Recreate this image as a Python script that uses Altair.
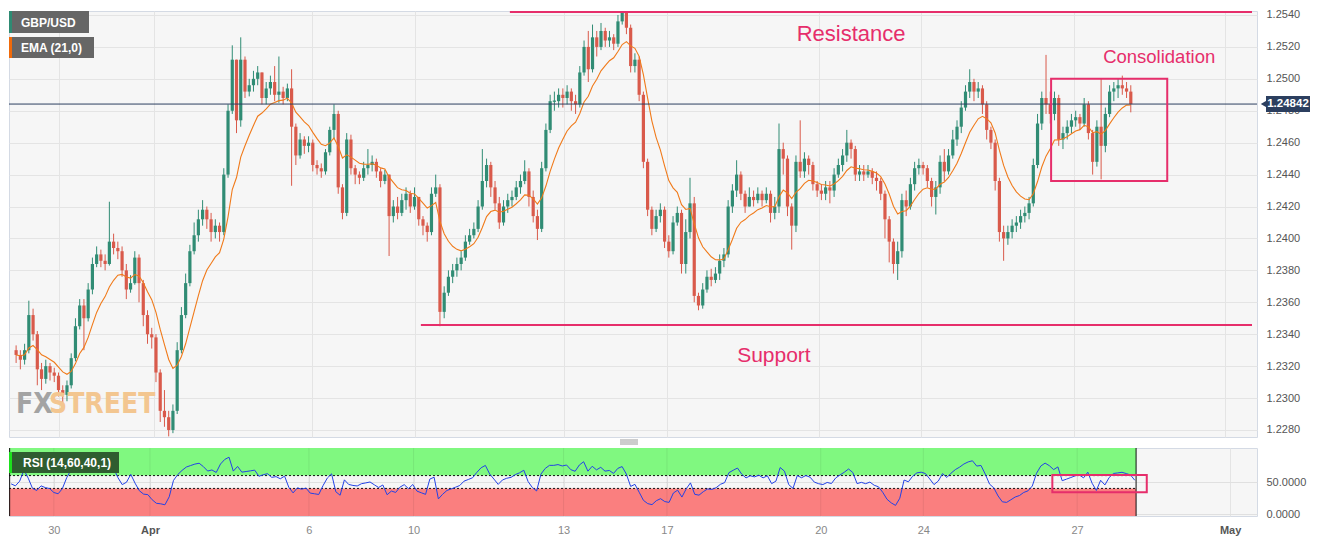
import altair as alt
import numpy as np
import pandas as pd

# ---------------- data (prices in pips above 1.2000, 2-hour candles) ----------------
OPEN0 = 330
CLOSE = [
    327, 324, 330, 352, 340, 318, 312, 320, 316, 314,
    305, 302, 308, 325, 345, 358, 350, 368, 384, 390,
    386, 384, 398, 394, 392, 380, 368, 372, 388, 372,
    352, 340, 338, 316, 292, 288, 280, 292, 330, 352,
    372, 392, 402, 412, 418, 412, 404, 408, 404, 440,
    480, 512, 474, 512, 492, 496, 500, 504, 488, 494,
    498, 490, 492, 488, 494, 470, 452, 462, 458, 460,
    446, 444, 442, 454, 468, 478, 432, 416, 462, 444,
    440, 438, 444, 446, 448, 442, 436, 440, 414, 420,
    416, 424, 428, 420, 426, 412, 408, 404, 428, 432,
    354, 366, 376, 380, 384, 388, 398, 402, 406, 420,
    436, 446, 432, 422, 410, 420, 424, 426, 432, 436,
    442, 426, 414, 406, 444, 468, 486, 486, 490, 488,
    492, 486, 484, 504, 520, 506, 526, 520, 530, 524,
    526, 522, 536, 542, 532, 508, 512, 490, 448, 418,
    406, 414, 418, 398, 392, 410, 416, 384, 404, 422,
    364, 358, 368, 376, 374, 378, 386, 390, 420, 430,
    440, 428, 420, 426, 424, 428, 424, 428, 416, 420,
    456, 450, 420, 408, 448, 442, 450, 446, 434, 430,
    428, 432, 430, 440, 446, 452, 460, 456, 440, 442,
    440, 442, 438, 436, 428, 412, 398, 384, 392, 424,
    420, 434, 444, 446, 444, 436, 426, 432, 448, 442,
    452, 462, 470, 482, 492, 498, 492, 494, 484, 468,
    460, 436, 404, 400, 404, 408, 410, 414, 416, 422,
    446, 472, 488, 484, 478, 488, 462, 466, 470, 474,
    476, 472, 484, 466, 448, 470, 458, 478, 492, 494,
    496, 494, 492, 484.2,
]
HIGH = [
    333, 330, 334, 361, 356, 342, 322, 324, 322, 319,
    316, 308, 311, 328, 350, 362, 362, 372, 388, 395,
    393, 390, 423, 403, 398, 395, 384, 377, 392, 390,
    374, 355, 344, 340, 318, 305, 292, 296, 335, 357,
    378, 396, 410, 418, 424, 420, 416, 412, 410, 444,
    484, 521, 508, 526, 514, 500, 505, 508, 504, 498,
    502, 508, 514, 495, 497, 506, 472, 466, 464, 464,
    462, 449, 447, 456, 470, 484, 480, 434, 466, 465,
    446, 442, 448, 456, 452, 450, 444, 443, 440, 424,
    426, 428, 432, 430, 432, 426, 414, 410, 432, 440,
    434, 370, 380, 384, 388, 392, 402, 406, 410, 424,
    456, 450, 448, 436, 426, 424, 428, 430, 436, 440,
    449, 444, 430, 418, 448, 472, 490, 492, 494, 494,
    496, 494, 490, 508, 524, 530, 534, 530, 535, 532,
    530, 528, 540, 546, 544, 534, 516, 514, 492, 450,
    420, 418, 422, 420, 402, 414, 420, 418, 412, 438,
    426, 366, 372, 380, 381, 382, 390, 394, 424, 434,
    449, 442, 430, 432, 430, 432, 430, 432, 430, 426,
    472, 460, 452, 422, 452, 474, 454, 452, 448, 436,
    434, 436, 436, 444, 450, 456, 468, 462, 458, 446,
    446, 446, 444, 442, 438, 430, 414, 400, 398, 428,
    430, 438, 448, 450, 448, 446, 438, 436, 452, 456,
    456, 468, 474, 486, 496, 506, 500, 498, 496, 486,
    470, 462, 438, 408, 408, 412, 414, 418, 420, 426,
    450, 478, 492, 515, 492, 492, 490, 470, 474, 478,
    480, 478, 488, 486, 468, 474, 500, 482, 496, 498,
    500, 502, 498, 496,
]
LOW = [
    322, 318, 321, 328, 336, 308, 305, 309, 311, 310,
    301, 297, 298, 306, 323, 343, 330, 348, 365, 382,
    382, 380, 383, 390, 387, 376, 362, 366, 371, 360,
    345, 334, 331, 310, 285, 282, 276, 278, 290, 328,
    350, 370, 390, 398, 408, 406, 398, 400, 398, 402,
    438, 478, 466, 470, 488, 489, 492, 496, 484, 484,
    490, 486, 485, 484, 486, 433, 446, 450, 453, 454,
    442, 440, 438, 440, 452, 462, 428, 412, 414, 440,
    434, 434, 436, 440, 442, 438, 432, 434, 389, 410,
    412, 414, 418, 416, 418, 408, 402, 398, 402, 426,
    345, 350, 364, 372, 376, 380, 386, 396, 400, 404,
    418, 432, 426, 418, 406, 408, 416, 420, 424, 428,
    434, 420, 410, 399, 404, 442, 466, 480, 482, 482,
    484, 480, 478, 482, 502, 498, 504, 514, 518, 520,
    520, 518, 520, 534, 528, 504, 504, 486, 444, 414,
    402, 404, 410, 394, 388, 390, 408, 378, 378, 400,
    360, 355, 356, 366, 370, 372, 374, 382, 388, 416,
    426, 424, 416, 420, 420, 422, 420, 422, 410, 412,
    416, 440, 414, 393, 404, 438, 438, 440, 430, 426,
    424, 424, 422, 426, 438, 442, 448, 450, 436, 436,
    436, 438, 434, 430, 424, 400, 385, 378, 374, 388,
    414, 418, 430, 440, 440, 432, 420, 415, 428, 436,
    440, 450, 458, 466, 480, 488, 486, 488, 478, 462,
    456, 430, 398, 386, 396, 400, 404, 406, 410, 412,
    420, 444, 468, 478, 472, 474, 458, 456, 462, 466,
    470, 468, 470, 462, 440, 445, 437, 454, 476, 486,
    488, 490, 488, 479,
]
LAST = 1.24842

TICK_POS = [10, 32.5, 69.7, 94.2, 129.3, 153.5, 189.5, 213.5, 249.5, 285.3]
TICK_LAB = ["30", "Apr", "6", "10", "13", "17", "20", "24", "27", "May"]
PRICE_TICKS = [round(1.228 + 0.002 * k, 4) for k in range(14)]

# annotation levels
RES_LEVEL = 1.25418
SUP_LEVEL = 1.23458
BOX_X = [244.2, 271.6]
BOX_Y = [1.2500, 1.2436]
RSI_BOX_X = [243.7, 265.8]
RSI_BOX_Y = [61, 34]

# ---------------- layout ----------------
W = 1248
H_MAIN = 426
H_RSI = 68
XDOM = [-0.5, 291.6]
YDOM = [1.22756, 1.25425]
RDOM = [-3, 103]
PINK = "#e62e6b"
GREEN = "#308c74"
RED = "#d95a4b"
NAVY = "#2c3f5f"
FONT = "Liberation Sans"
WM_FONT = "DejaVu Sans Condensed, DejaVu Sans, Liberation Sans"

n = len(CLOSE)
cl = np.array(CLOSE, float)
op = np.concatenate([[OPEN0], cl[:-1]])
hi = np.maximum(np.array(HIGH, float), np.maximum(op, cl))
lo = np.minimum(np.array(LOW, float), np.minimum(op, cl))
# body ends (keep at least a hairline for doji)
b1 = np.where(np.abs(cl - op) < 0.6, op - 0.4, op)
b2 = np.where(np.abs(cl - op) < 0.6, op + 0.4, cl)

# EMA(21) of hourly bars expressed on 2-hour bars
a1 = 2 / 22
alpha = 1 - (1 - a1) ** 2
ema = pd.Series(cl).ewm(alpha=alpha, adjust=False).mean().values

# RSI(14) hourly -> 7 bars of 2 hours, Wilder smoothing
ag = al = 4.0
rsi = []
for v in (cl - op):
    ag += (max(v, 0) - ag) / 7
    al += (max(-v, 0) - al) / 7
    rsi.append(100 - 100 / (1 + ag / al))

df = pd.DataFrame({
    "i": np.arange(n),
    "o": 1.2 + b1 / 1e4,
    "c": 1.2 + b2 / 1e4,
    "h": 1.2 + hi / 1e4,
    "l": 1.2 + lo / 1e4,
    "ema": 1.2 + ema / 1e4,
    "rsi": rsi,
    "dir": np.where(cl >= op, "up", "down"),
})

xscale = alt.Scale(domain=XDOM, nice=False, zero=False)
yscale = alt.Scale(domain=YDOM, nice=False, zero=False)
rscale = alt.Scale(domain=RDOM, nice=False, zero=False)

xax_main = alt.Axis(values=TICK_POS, labels=False, ticks=False, domain=False,
                    grid=True, gridColor="#e4e4e4", title=None)
yax_main = alt.Axis(orient="right", values=PRICE_TICKS, format=".4f", labelColor="#555",
                    labelFontSize=11, labelPadding=9, ticks=False, domain=False,
                    grid=True, gridColor="#e4e4e4", title=None, labelFont=FONT)

lab_expr = " : ".join(f"abs(datum.value - {p}) < 0.01 ? '{t}'" for p, t in zip(TICK_POS, TICK_LAB)) + " : ''"
bold_test = "abs(datum.value - 32.5) < 0.01 || abs(datum.value - 285.3) < 0.01"
xax_rsi = alt.Axis(values=TICK_POS, labelExpr=lab_expr, ticks=False, domain=False, grid=True,
                   gridColor="#e4e4e4", title=None, labelFontSize=11, labelPadding=8,
                   labelFont=FONT,
                   labelColor={"condition": {"test": bold_test, "value": "#555"}, "value": "#888"},
                   labelFontWeight={"condition": {"test": bold_test, "value": "bold"}, "value": "normal"})
yax_rsi = alt.Axis(orient="right", values=[0, 50], format=".4f", labelColor="#555", labelFontSize=11,
                   labelPadding=9, ticks=False, domain=False, grid=True, gridColor="#e0e0e0",
                   title=None, labelFont=FONT)


def X(field, ax):
    return alt.X(field, type="quantitative", scale=xscale, axis=ax)


def Y(field):
    return alt.Y(field, type="quantitative", scale=yscale, axis=yax_main)


def R(field):
    return alt.Y(field, type="quantitative", scale=rscale, axis=yax_rsi)


color = alt.Color("dir:N", scale=alt.Scale(domain=["up", "down"], range=[GREEN, RED]), legend=None)

wicks = alt.Chart(df).mark_rule(size=1, clip=True).encode(x=X("i", xax_main), y=Y("l"), y2="h", color=color)
bodies = alt.Chart(df).mark_bar(size=3.2, clip=True).encode(x=X("i", xax_main), y=Y("o"), y2="c", color=color)
ema_line = alt.Chart(df).mark_line(color="#f07a1a", strokeWidth=1.1, clip=True).encode(
    x=X("i", xax_main), y=Y("ema"))

last_df = pd.DataFrame({"y": [LAST]})
last_line = alt.Chart(last_df).mark_rule(color=NAVY, size=1).encode(y=Y("y"))

lines_df = pd.DataFrame({"x1": [116.5, 95.5], "x2": [XDOM[1], XDOM[1]], "y": [RES_LEVEL, SUP_LEVEL]})
sr_lines = alt.Chart(lines_df).mark_rule(color=PINK, size=2).encode(
    x=X("x1", xax_main), x2="x2", y=Y("y"))

box_df = pd.DataFrame({"x1": [BOX_X[0]], "x2": [BOX_X[1]], "y1": [BOX_Y[0]], "y2": [BOX_Y[1]]})
box = alt.Chart(box_df).mark_rect(fillOpacity=0, stroke=PINK, strokeWidth=2).encode(
    x=X("x1", xax_main), x2="x2", y=Y("y1"), y2="y2")

ann_df = pd.DataFrame({
    "x": [197.0, 269.7, 178.8],
    "y": [1.25283, 1.25137, 1.23263],
    "t": ["Resistance", "Consolidation", "Support"],
    "s": [22, 18.5, 21],
})
ann = alt.Chart(ann_df).mark_text(color=PINK, font=FONT, baseline="middle", align="center").encode(
    x=X("x", xax_main), y=Y("y"), text="t:N", size=alt.Size("s:Q", scale=None, legend=None))

one = pd.DataFrame({"a": [0]})
wm_fx = alt.Chart(one).mark_text(text="FX", font=WM_FONT, fontWeight="bold", fontSize=28,
                                  color="#a3a3a3", align="left", baseline="middle").encode(
    x=alt.value(7), y=alt.value(394))
wm_st = alt.Chart(one).mark_text(text="STREET", font=WM_FONT, fontWeight="bold", fontSize=28,
                                  color="#f3c690", align="left", baseline="middle").encode(
    x=alt.value(40), y=alt.value(394))

leg_rects = pd.DataFrame({
    "x1": [0, 0, 0, 0], "x2": [80, 3, 85, 3],
    "y1": [0, 0, 26, 26], "y2": [22, 22, 47, 47],
    "c": ["#666666", "#2e8b73", "#666666", "#f06a0a"],
})
leg_boxes = alt.Chart(leg_rects).mark_rect().encode(
    x=alt.X("x1:Q", scale=None), x2="x2:Q", y=alt.Y("y1:Q", scale=None), y2="y2:Q",
    color=alt.Color("c:N", scale=None))
leg_txt_df = pd.DataFrame({"x": [12, 12], "y": [11.5, 37], "t": ["GBP/USD", "EMA (21,0)"]})
leg_txt = alt.Chart(leg_txt_df).mark_text(color="white", font=FONT, fontSize=12, fontWeight="bold",
                                          align="left", baseline="middle").encode(
    x=alt.X("x:Q", scale=None), y=alt.Y("y:Q", scale=None), text="t:N")

tag_df = pd.DataFrame({"y": [LAST], "y1": [LAST + 0.0005], "y2": [LAST - 0.0005], "t": [f"{LAST:.5f}"]})
tag_rect = alt.Chart(tag_df).mark_rect(color=NAVY).encode(
    x=alt.value(W + 9), x2=alt.value(W + 53), y=Y("y1"), y2="y2")
tag_arrow = alt.Chart(tag_df).mark_point(shape="triangle-left", filled=True, size=55, color=NAVY, opacity=1).encode(
    x=alt.value(W + 7), y=Y("y"))
tag_txt = alt.Chart(tag_df).mark_text(color="white", font=FONT, fontSize=11.5, fontWeight="bold",
                                      align="center", baseline="middle").encode(
    x=alt.value(W + 31), y=Y("y"), text="t:N")

main = alt.layer(
    wicks, bodies, ema_line, last_line, sr_lines, box, ann, wm_fx, wm_st,
    leg_boxes, leg_txt, tag_rect, tag_arrow, tag_txt,
).properties(width=W, height=H_MAIN)

# ---------------- RSI panel ----------------
END = n - 1 + 0.3
band_df = pd.DataFrame({"x1": [XDOM[0], XDOM[0]], "x2": [END, END], "y1": [60, RDOM[0]], "y2": [RDOM[1], 40],
                        "c": ["#80f880", "#fa7f7f"]})
bands = alt.Chart(band_df).mark_rect().encode(
    x=X("x1", xax_rsi), x2="x2", y=R("y1"), y2="y2", color=alt.Color("c:N", scale=None))
vgrid_df = pd.DataFrame({"x": [p for p in TICK_POS if p < END]})
vgrid = alt.Chart(vgrid_df).mark_rule(color="#000", opacity=0.07, size=1).encode(x=X("x", xax_rsi))
lvl_df = pd.DataFrame({"x1": [XDOM[0], XDOM[0]], "x2": [END, END], "y": [60, 40]})
lvls = alt.Chart(lvl_df).mark_rule(color="#111", size=1, strokeDash=[2, 2]).encode(
    x=X("x1", xax_rsi), x2="x2", y=R("y"))
edge_df = pd.DataFrame({"x": [XDOM[0] + 0.15, END], "y1": [RDOM[0], RDOM[0]], "y2": [RDOM[1], RDOM[1]]})
edges = alt.Chart(edge_df).mark_rule(color="#111", size=1).encode(
    x=X("x", xax_rsi), y=R("y1"), y2="y2")
rsi_line = alt.Chart(df).mark_line(color="#2342e6", strokeWidth=1).encode(x=X("i", xax_rsi), y=R("rsi"))
rbox_df = pd.DataFrame({"x1": [RSI_BOX_X[0]], "x2": [RSI_BOX_X[1]], "y1": [RSI_BOX_Y[0]], "y2": [RSI_BOX_Y[1]]})
rbox = alt.Chart(rbox_df).mark_rect(fillOpacity=0, stroke=PINK, strokeWidth=2).encode(
    x=X("x1", xax_rsi), x2="x2", y=R("y1"), y2="y2")
rleg_df = pd.DataFrame({"x1": [0, 0], "x2": [110, 3], "y1": [4, 4], "y2": [25, 25], "c": ["#2f5d30", "#1de01d"]})
rleg = alt.Chart(rleg_df).mark_rect().encode(
    x=alt.X("x1:Q", scale=None), x2="x2:Q", y=alt.Y("y1:Q", scale=None), y2="y2:Q",
    color=alt.Color("c:N", scale=None))
rleg_txt = alt.Chart(one).mark_text(text="RSI (14,60,40,1)", color="white", font=FONT, fontSize=12,
                                     fontWeight="bold", align="left", baseline="middle").encode(
    x=alt.value(14), y=alt.value(14.5))
handle_df = pd.DataFrame({"y": [-8, -6, -4]})
handle = alt.Chart(handle_df).mark_rule(color="#9a9a9a", size=1).encode(
    x=alt.value(611), x2=alt.value(629), y=alt.Y("y:Q", scale=None))

rsi_panel = alt.layer(bands, vgrid, lvls, rsi_line, edges, rbox, rleg, rleg_txt, handle).properties(
    width=W, height=H_RSI)

chart = alt.vconcat(main, rsi_panel, spacing=1).properties(
    padding=0, background="white"
).configure(font=FONT).configure_view(stroke="#d4dae4", fill="#f6f6f6")

chart.save("out.html", embed_options={"renderer": "svg", "actions": False})
